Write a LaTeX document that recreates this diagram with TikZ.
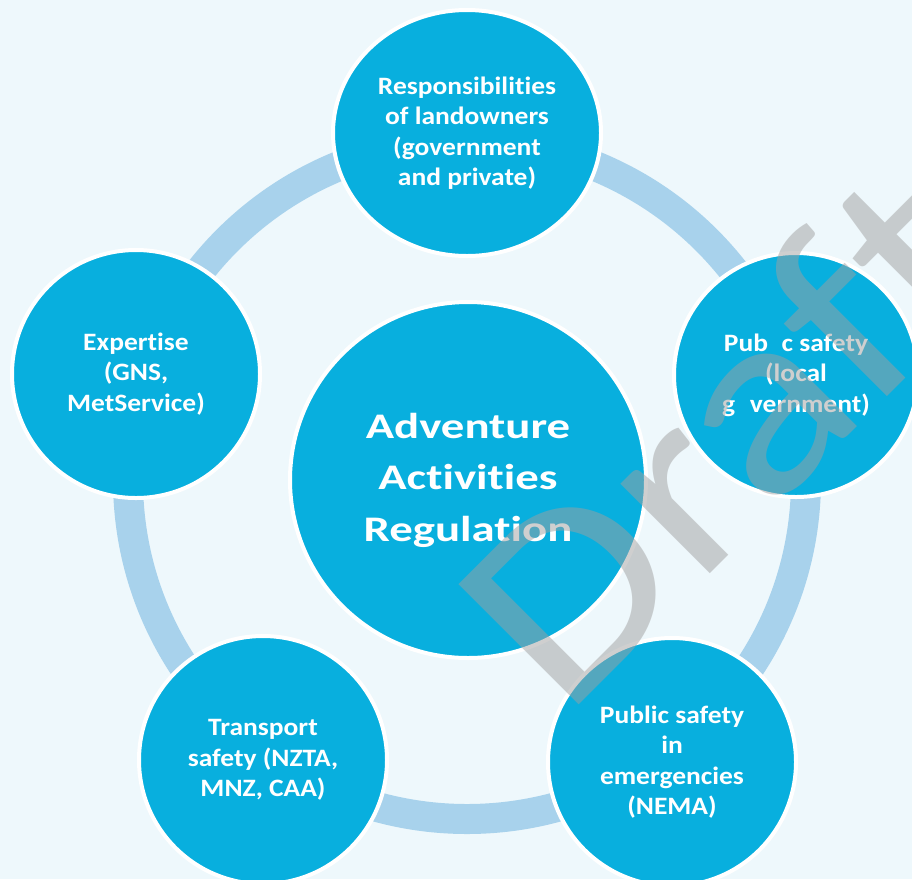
\documentclass[tikz,border=0pt]{standalone}
\usepackage{fontspec}
\setmainfont{Carlito}
\newfontfamily\outerfont[FakeStretch=1.1,Ligatures=NoCommon]{Carlito}
\newfontfamily\centerfont[FakeStretch=1.3,Ligatures=NoCommon]{Carlito}
\newfontfamily\wmfont[FakeStretch=1.15,Ligatures=NoCommon]{Carlito}
\usetikzlibrary{shapes.geometric}
\definecolor{bgblue}{RGB}{238,248,252}
\definecolor{ringblue}{RGB}{168,210,236}
\definecolor{discblue}{RGB}{8,175,222}
\definecolor{wmgray}{RGB}{160,160,160}
\tikzset{
  disc/.style={circle, fill=discblue, draw=white, line width=4pt, inner sep=0pt,
    text=white, align=center, font={\outerfont\bfseries\fontsize{25}{30.5}\selectfont}},
  maindisc/.style={disc, font={\centerfont\bfseries\fontsize{36}{51.5}\selectfont}},
  ringline/.style={circle, draw=ringblue, line width=30pt, inner sep=0pt},
  watermark/.style={rotate=45, anchor=base west, inner sep=0pt, text=wmgray,
    text opacity=0.5, font={\wmfont\fontsize{265}{265}\selectfont}}
}
\begin{document}
\begin{tikzpicture}[x=1pt,y=-1pt]
\useasboundingbox (0,0) rectangle (912,879);
\clip (0,0) rectangle (912,879);
\fill[bgblue] (0,0) rectangle (912,879);
\node[ringline, minimum size=678pt] (ring) at (467,480) {};
\node[disc, ellipse, minimum width=268pt, minimum height=246pt] (top) at (467,133)
  {Responsibilities\\of landowners\\(government\\and private)};
\node[disc, minimum size=248pt] (left) at (136,374)
  {Expertise\\(GNS,\\MetService)};
\node[disc, minimum size=244pt] (right) at (796,375)
  {Pub\phantom{li}c safety\\(local\\g\phantom{o}vernment)};
\node[disc, minimum size=248pt] (bl) at (263,760)
  {Transport\\safety (NZTA,\\MNZ, CAA)};
\node[disc, minimum size=248pt] (br) at (672,762)
  {Public safety\\in\\emergencies\\(NEMA)};
\node[maindisc, minimum size=356pt] (main) at (468,480)
  {Adventure\\Activities\\Regulation};
\node[watermark] (wm) at (564,720) {Draft};
\end{tikzpicture}
\end{document}
